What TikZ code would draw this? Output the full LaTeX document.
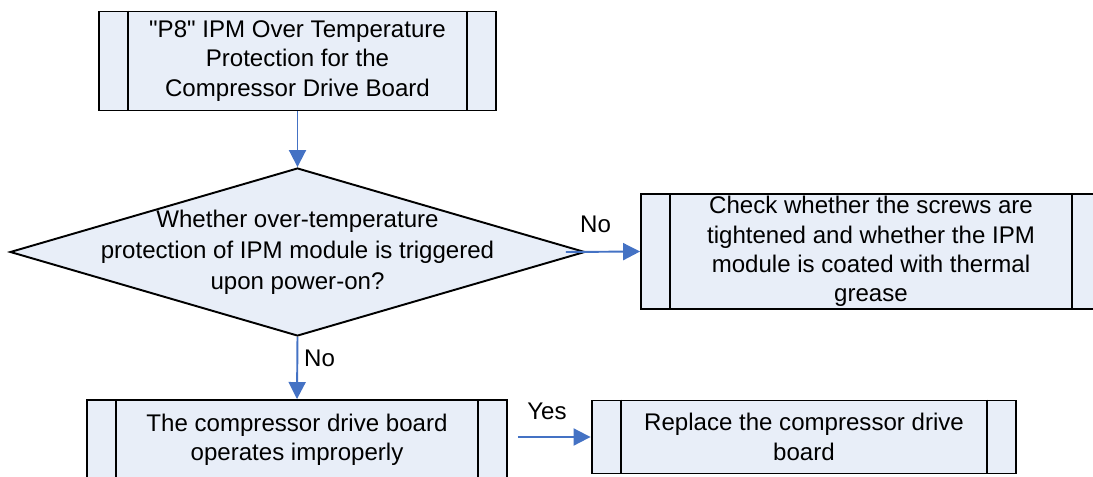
\documentclass[tikz,border=0pt]{standalone}
\usepackage{fontspec}
\setmainfont{Liberation Sans}[Ligatures=TeXOff]
\usetikzlibrary{shapes.geometric, arrows.meta, positioning, calc}
\definecolor{cFill}{RGB}{232,238,248}
\definecolor{cFlow}{RGB}{68,114,196}

\begin{document}
\begin{tikzpicture}[x=0.02cm, y=-0.02cm, font=\fontsize{13.7}{16.7}\selectfont,
  procbox/.style={draw, line width=1.1pt, fill=cFill, rectangle, align=center, inner sep=0pt},
  decbox/.style={draw, line width=1.1pt, fill=cFill, diamond, inner sep=0pt},
  flow/.style={cFlow, line width=1.1pt, -{Triangle[length=0.34cm, width=0.34cm]}},
  flowlabel/.style={text=black}]
  \useasboundingbox (0,0) rectangle (1093,477);

  \node[procbox, minimum width=7.94cm, minimum height=1.98cm] (start) at (297.5,61)
    {"P8" IPM Over Temperature\\Protection for the\\Compressor Drive Board};
  \node[decbox, minimum width=11.5cm, minimum height=3.36cm,
    label={[align=center, font=\fontsize{13.7}{17.6}\selectfont]center:Whether over-temperature\\protection of IPM module is triggered\\upon power-on?}]
    (dec) at (297.5,252) {};
  \node[procbox, minimum width=9.2cm, minimum height=2.3cm] (check) at (871,251.5)
    {Check whether the screws are\\tightened and whether the IPM\\module is coated with thermal\\grease};
  \node[procbox, minimum width=8.4cm, minimum height=1.6cm] (bad) at (297,440)
    {The compressor drive board\\operates improperly};
  \node[procbox, minimum width=8.5cm, minimum height=1.46cm] (replace) at (804,437)
    {Replace the compressor drive\\board};

  % side bars of the process boxes
  \foreach \n in {start, check, bad, replace}
    \draw[line width=1.1pt] ([xshift=0.6cm]\n.north west) -- ([xshift=0.6cm]\n.south west)
      ([xshift=-0.6cm]\n.north east) -- ([xshift=-0.6cm]\n.south east);

  \draw[flow] (start.south) -- (dec.north);
  \draw[flow] ([xshift=-0.4cm]dec.east) -- node[flowlabel, above=7pt, pos=0.4] (no1) {No} (check.west);
  \draw[flow] (dec.south) -- node[flowlabel, right, pos=0.35] (no2) {No} (bad.north);
  \draw[flow] ([xshift=0.2cm]bad.east |- replace.west) -- node[flowlabel, above=6pt, pos=0.4] (yes) {Yes} (replace.west);
\end{tikzpicture}
\end{document}
